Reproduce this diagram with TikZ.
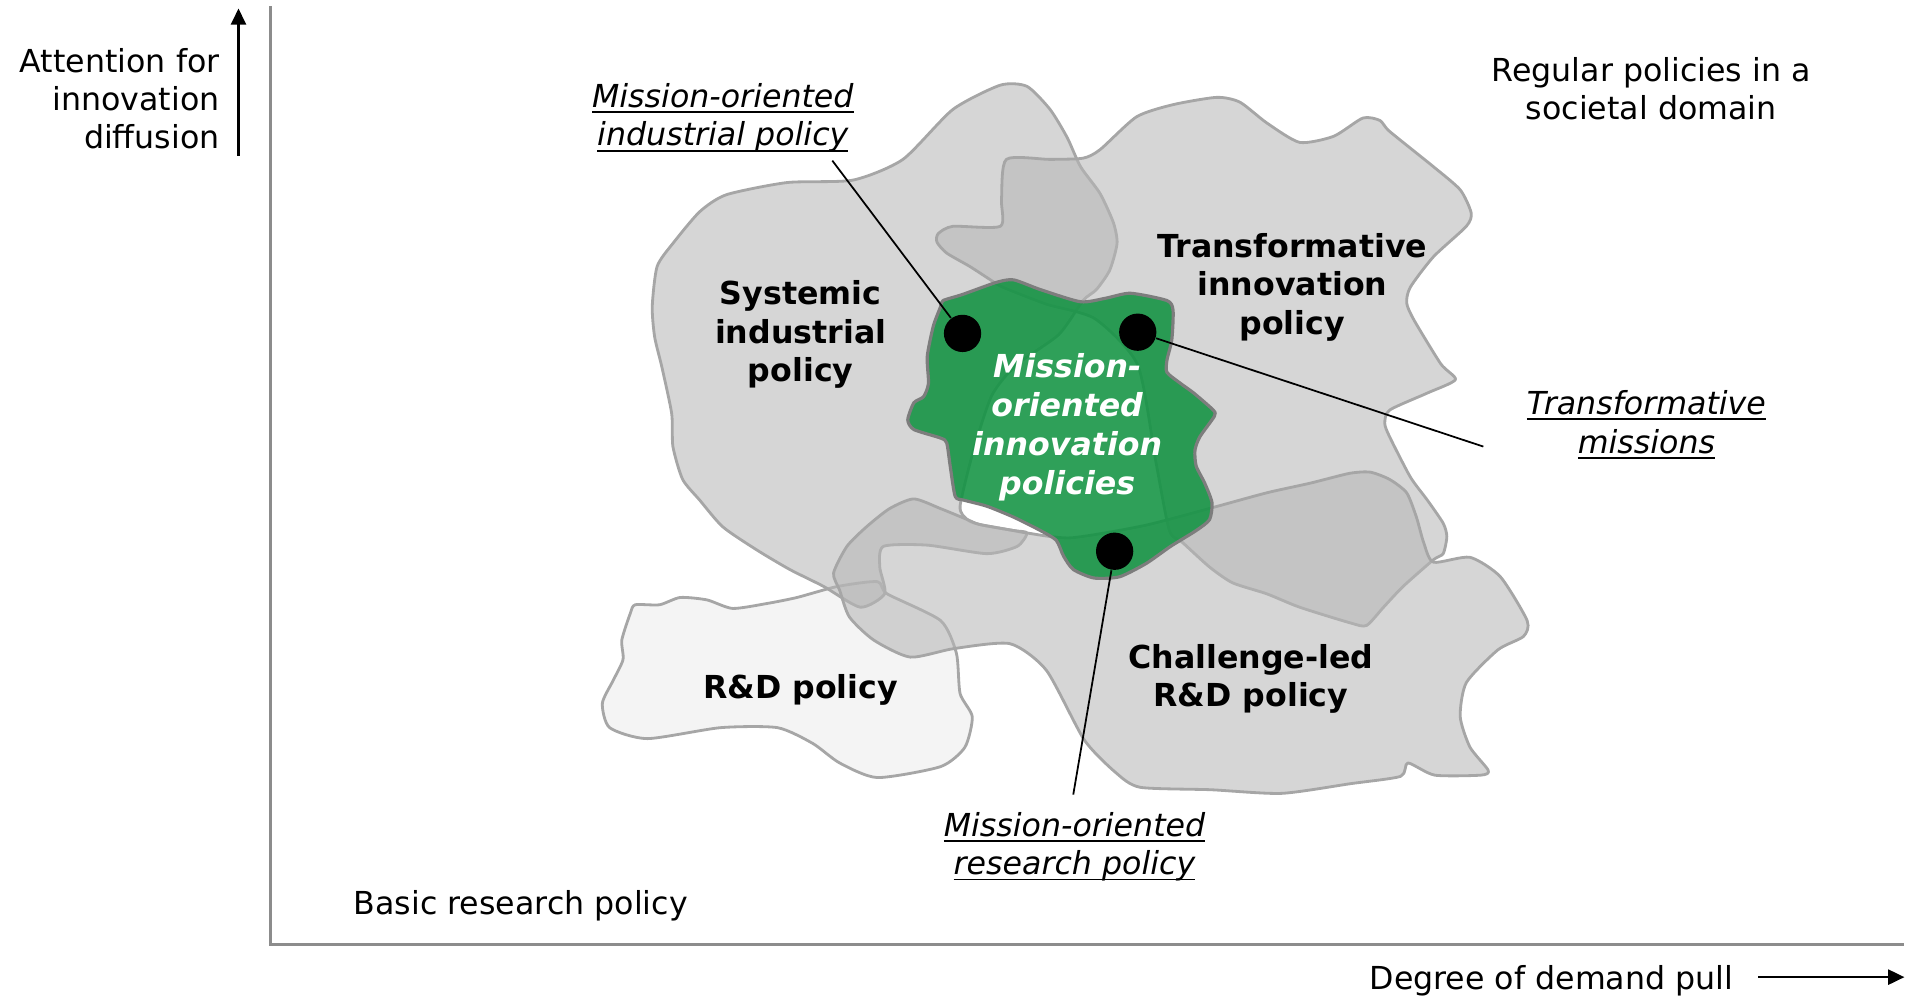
\documentclass[tikz,border=0pt]{standalone}
\usepackage{fontspec}
\setmainfont{DejaVu Sans}
\usepackage{xcolor}
\usepackage{tikz}
\usetikzlibrary{arrows.meta}

\definecolor{regiongray}{RGB}{182,182,182}
\definecolor{edgegray}{RGB}{166,166,166}
\definecolor{axisgray}{RGB}{140,140,140}
\definecolor{rdwhite}{RGB}{244,244,244}
\definecolor{missiongreen}{RGB}{18,147,66}
\definecolor{greenedge}{RGB}{125,125,125}

\newcommand\ulbl[1]{\setbox0\hbox{#1}\rlap{\rule[-1.6pt]{\wd0}{0.55pt}}\box0}

\tikzset{
	txt/.style={font=\fontsize{9}{10.9}\selectfont, inner sep=0pt, align=center},
	boldlbl/.style={txt, font=\fontsize{9}{10.9}\selectfont\bfseries},
	itlbl/.style={txt, font=\fontsize{9}{10.9}\selectfont\itshape},
	greenlbl/.style={txt, font=\fontsize{9}{11.1}\selectfont\bfseries\itshape, text=white},
	region/.style={fill=regiongray, fill opacity=0.565, draw=edgegray, line width=0.8pt, line join=round},
	blackdot/.style={circle, fill=black, inner sep=0pt, minimum size=10.6pt},
	leaderline/.style={line width=0.5pt, black},
	axisline/.style={draw=axisgray, line width=0.8pt},
	axisarrow/.style={line width=0.6pt, -{Triangle[length=4.6pt,width=4.3pt]}}
}

\begin{document}
\begin{tikzpicture}[x=0.012168cm, y=-0.012168cm]
	\useasboundingbox (0,0) rectangle (1568,819);
	% axes
	\coordinate (origin) at (222,776);
	\draw[axisline] (222,5) -- (origin) -- (1565,776);
	\coordinate (ytail) at (196,128);
	\coordinate (ytip) at (196,7);
	\draw[axisarrow] (ytail) -- (ytip);
	\coordinate (xtail) at (1445,803);
	\coordinate (xtip) at (1565,803);
	\draw[axisarrow] (xtail) -- (xtip);
	\node (att) at (181,81) [txt, anchor=east, align=right] {Attention for\\innovation\\diffusion};
	\node (dem) at (1275,806) [txt] {Degree of demand pull};
	\node (basic) at (428,744) [txt] {Basic research policy};
	\node (reg) at (1357,73) [txt] {Regular policies in a\\societal domain};

	% policy fields
	\draw[fill=rdwhite, draw=edgegray, line width=0.8pt, line join=round] plot[smooth cycle, tension=0.4] coordinates {
		(518,504) (522,497) (542,497) (559,491) (581,493) (602,500) (630,496) (655,491) (688,482) (721,478)
		(729,488) (773,510) (786,537) (789,570) (799,589) (793,614) (773,630) (721,639) (690,627) (668,611)
		(639,598) (592,598) (532,607) (501,598) (495,578) (504,559) (512,542) (511,526)};
	\draw[region] plot[smooth cycle, tension=0.4] coordinates {
		(597,160) (647,150) (701,148) (742,131) (783,90) (822,70) (844,71) (863,90) (877,113) (888,137)
		(904,159) (915,183) (918,200) (912,222) (901,238) (890,247) (870,275) (835,300) (815,325) (800,370)
		(789,416) (795,427) (805,431) (833,436) (844,438) (836,449) (811,455) (762,448) (726,449) (723,466)
		(727,488) (707,499) (677,482) (649,468) (622,452) (594,433) (575,411) (561,394) (553,367) (552,340)
		(544,302) (538,277) (536,252) (540,219) (553,200) (575,174)};
	\draw[region] plot[smooth cycle, tension=0.4] coordinates {
		(827,131) (863,131) (890,130) (904,123) (934,96) (964,86) (1000,80) (1019,84) (1041,101) (1068,117)
		(1096,112) (1120,97) (1134,99) (1142,108) (1178,137) (1200,156) (1209,175) (1205,186) (1178,211) (1159,236)
		(1156,249) (1162,263) (1184,299) (1196,312) (1173,323) (1142,337) (1138,348) (1142,359) (1159,392) (1173,411)
		(1186,430) (1189,441) (1186,455) (1178,460) (1153,482) (1137,499) (1123,514) (1110,512) (1068,499) (1041,488)
		(1013,479) (994,466) (972,446) (961,436) (950,380) (935,300) (900,262) (860,250) (824,236) (814,230)
		(797,219) (778,208) (770,199) (771,192) (783,186) (822,186) (823,164)};
	\draw[region] plot[smooth cycle, tension=0.4] coordinates {
		(685,471) (696,449) (712,433) (731,418) (751,410) (773,418) (795,427) (805,431) (833,436) (844,438)
		(880,442) (940,432) (997,417) (1041,405) (1077,397) (1109,389) (1126,388) (1142,394) (1156,405) (1164,425)
		(1170,446) (1178,462) (1208,458) (1233,474) (1255,510) (1252,523) (1231,534) (1205,561) (1200,589) (1208,614)
		(1223,633) (1217,637) (1179,637) (1157,627) (1151,638) (1110,644) (1053,652) (995,649) (937,647) (917,635)
		(891,608) (860,551) (830,529) (784,533) (748,540) (718,526) (698,507) (690,485)};
	\draw[fill=missiongreen, fill opacity=0.88, draw=greenedge, line width=0.9pt, line join=round] plot[smooth cycle, tension=0.4] coordinates {
		(775,247) (791,242) (819,232) (833,230) (855,238) (888,248) (909,245) (929,241) (959,247) (964,255)
		(963,279) (959,296) (959,306) (970,315) (981,323) (997,337) (998,342) (986,359) (982,370) (983,383)
		(990,397) (996,413) (994,427) (983,436) (962,449) (942,463) (920,474) (899,475) (882,468) (874,457)
		(868,444) (855,436) (833,425) (811,416) (792,411) (785,408) (781,384) (778,364) (773,360) (751,353)
		(746,345) (751,331) (759,326) (763,315) (762,293) (767,268) (773,252)};

	\node (sysl) at (658,275) [boldlbl] {Systemic\\industrial\\policy};
	\node (tipl) at (1062,236) [boldlbl] {Transformative\\innovation\\policy};
	\node (rdl) at (658,567) [boldlbl] {R\&D policy};
	\node (chl) at (1028,558) [boldlbl] {Challenge-led\\R\&D policy};
	\node (mopl) at (877,351) [greenlbl] {Mission-\\oriented\\innovation\\policies};

	% missions and their leaders
	\node (moip) at (594,97) [itlbl] {\ulbl{Mission-oriented}\\\ulbl{industrial policy}};
	\node (tmis) at (1353,349) [itlbl] {\ulbl{Transformative}\\\ulbl{missions}};
	\node (morp) at (883,696) [itlbl] {\ulbl{Mission-oriented}\\\ulbl{research policy}};
	\coordinate (moipend) at (684,132);
	\coordinate (tmisend) at (1219,367);
	\coordinate (morpend) at (882,653);
	\foreach \n/\x/\y in {dotind/791/274, dottrans/935/273, dotres/916/453}{
		\node (\n) at (\x,\y) [blackdot] {};
	}
	\draw[leaderline] (dotind) -- (moipend);
	\draw[leaderline] (dottrans) -- (tmisend);
	\draw[leaderline] (dotres) -- (morpend);
\end{tikzpicture}
\end{document}
